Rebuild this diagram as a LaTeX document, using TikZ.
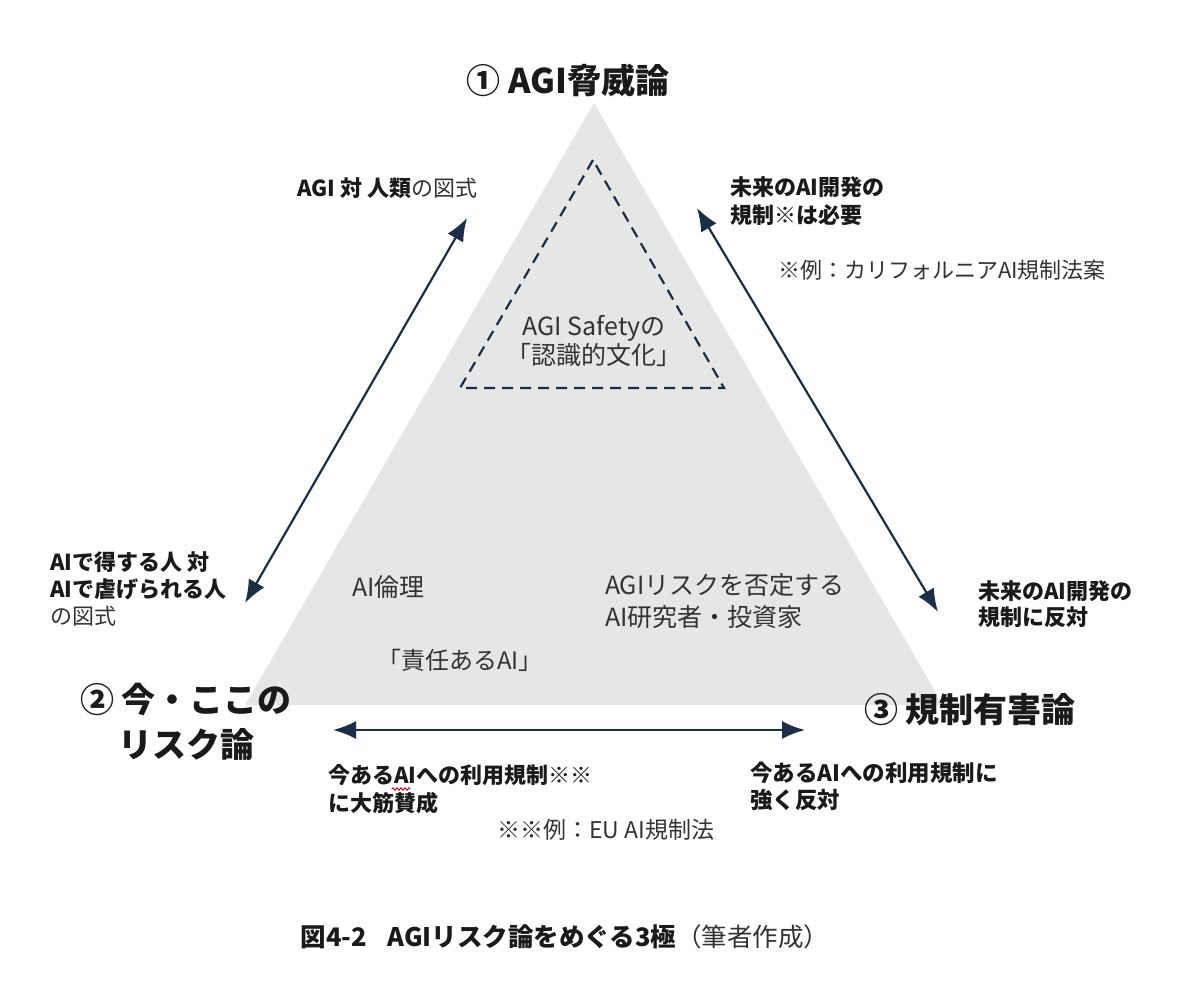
\documentclass[tikz,border=0pt]{standalone}
\usepackage{fontspec}
\setmainfont{Noto Sans CJK JP}
\usetikzlibrary{arrows.meta,decorations.pathmorphing}
\definecolor{navy}{HTML}{1A2E48}
\definecolor{tri}{HTML}{E6E6E6}
\definecolor{txt}{HTML}{1A1A1A}
\definecolor{rtxt}{HTML}{333333}
\begin{document}
\begin{tikzpicture}[x=1pt,y=-1pt,
  every node/.style={inner sep=0pt,outer sep=0pt,text=txt},
  big/.style={font=\fontsize{34}{45}\selectfont\bfseries},
  lbl/.style={font=\fontsize{22}{28}\selectfont\bfseries,align=left},
  reg/.style={font=\fontsize{22}{30}\selectfont,text=rtxt},
  inreg/.style={font=\fontsize{25}{30}\selectfont,text=rtxt},
  dbl/.style={draw=navy,line width=2.2pt,{Latex[length=23pt,width=18pt]}-{Latex[length=23pt,width=18pt]}},
  dashtri/.style={draw=navy,line width=2.2pt,dash pattern=on 11pt off 7pt,line join=miter}]
\useasboundingbox (0,0) rectangle (1178,980);
\fill[white] (0,0) rectangle (1178,980);
% big triangle
\coordinate (A) at (594,103);
\coordinate (B) at (245,705);
\coordinate (C) at (943,705);
\fill[tri] (A) -- (B) -- (C) -- cycle;
% dashed triangle
\coordinate (dA) at (593,160);
\coordinate (dB) at (460,388);
\coordinate (dC) at (724,388);
\draw[dashtri] (dA) -- (dB) -- (dC) -- cycle;
% pole labels
\node[big] (p1) at (568,80) {① AGI脅威論};
\node[big,align=center] (p2) at (186,722) {② 今・ここの\\リスク論};
\node[big] (p3) at (970,710) {③ 規制有害論};
% inner texts
\node[inreg,align=center,font=\fontsize{25}{29}\selectfont] (safe) at (594,341) {AGI Safetyの\\「認識的文化」};
\node[inreg,anchor=west] (eth) at (352,587) {AI倫理};
\node[inreg,anchor=west,font=\fontsize{24}{30}\selectfont] (resp) at (377,660) {「責任あるAI」};
\node[inreg,anchor=north west,align=left,font=\fontsize{25}{32}\selectfont] (deny) at (605,573) {AGIリスクを否定する\\AI研究者・投資家};
% outer labels
\node[anchor=west,font=\fontsize{22}{28}\selectfont] (agih) at (297,188) {\bfseries AGI 対 人類\mdseries\color{rtxt}の図式};
\node[lbl,anchor=north west] (fut1) at (730,177) {未来のAI開発の\\規制※は必要};
\node[reg,anchor=west] (cal) at (778,270) {※例：カリフォルニアAI規制法案};
\node[anchor=north west,align=left,font=\fontsize{22}{27}\selectfont] (gain) at (50,552) {\bfseries AIで得する人 対\\\bfseries AIで虐げられる人\\\color{rtxt}の図式};
\node[lbl,anchor=north west,font=\fontsize{22}{26}\selectfont\bfseries] (fut2) at (978,581) {未来のAI開発の\\規制に反対};
\node[lbl,anchor=north west] (now1) at (328,764) {今あるAIへの利用規制※※\\に大筋賛成};
\node[lbl,anchor=north west,font=\fontsize{22.5}{27}\selectfont\bfseries] (now2) at (750,762) {今あるAIへの利用規制に\\強く反対};
\node[reg,anchor=west,font=\fontsize{23}{30}\selectfont] (eu) at (497,830) {※※例：EU AI規制法};
% red squiggle under AI
\draw[red!80!black,line width=0.9pt,decorate,decoration={zigzag,segment length=4pt,amplitude=1.2pt}] (392,789) -- (410,789);
% caption
\node[font=\fontsize{25.5}{30}\selectfont] (cap) at (565,937) {\bfseries 図4-2\hspace{0.8em}AGIリスク論をめぐる3極\mdseries\color{rtxt}（筆者作成）};
% arrows
\coordinate (l1) at (245,603);
\coordinate (l2) at (467,218);
\coordinate (r1) at (697,208);
\coordinate (r2) at (938,612);
\coordinate (b1) at (333,730);
\coordinate (b2) at (805,730);
\draw[dbl] (l1) -- (l2);
\draw[dbl] (r1) -- (r2);
\draw[dbl] (b1) -- (b2);
\end{tikzpicture}
\end{document}
